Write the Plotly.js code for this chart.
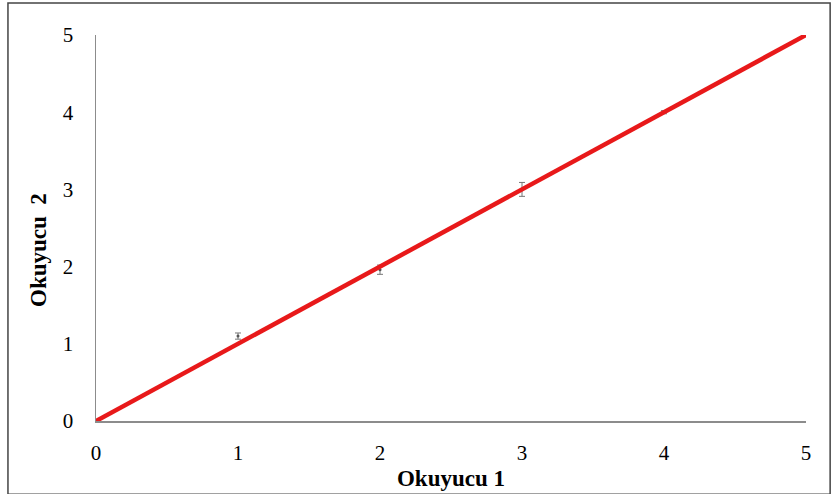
<!DOCTYPE html>
<html>
<head>
<meta charset="utf-8">
<script src="https://cdn.plot.ly/plotly-3.0.1.min.js"></script>
<style>html,body{margin:0;padding:0;background:#fff;}#chart{width:833px;height:494px;}</style>
</head>
<body>
<div id="chart"></div>
<script>
const pointX = [1, 2, 3, 4];
const pointY = [1.1, 1.96, 3.0, 4.0];
const pointErr = [0.04, 0.06, 0.09, 0.02];
const lineX = [0, 5];
const lineY = [0, 5];
const tickVals = [0, 1, 2, 3, 4, 5];
const xTitle = 'Okuyucu 1';
const yTitle = 'Okuyucu&nbsp; 2';

const traces = [
  {
    x: pointX, y: pointY, type: 'scatter', mode: 'markers',
    marker: {size: 3, color: '#555'},
    error_y: {type: 'data', array: pointErr, visible: true, color: '#777', thickness: 1, width: 3},
    showlegend: false, hoverinfo: 'skip'
  },
  {
    x: lineX, y: lineY, type: 'scatter', mode: 'lines',
    line: {color: '#e8191a', width: 4.5},
    showlegend: false
  }
];

const layout = {
  width: 833, height: 494,
  margin: {l: 96, r: 27, t: 35, b: 73},
  paper_bgcolor: '#fff', plot_bgcolor: '#fff',
  font: {family: 'Liberation Serif, Times New Roman, serif', size: 21, color: '#000'},
  xaxis: {
    range: [0, 5], tickvals: tickVals, showgrid: false, zeroline: false,
    showline: true, linecolor: '#8c8c8c', linewidth: 1.5,
    ticks: 'outside', ticklen: 12, tickcolor: 'rgba(0,0,0,0)',
    title: {text: '<b>' + xTitle + '</b>', standoff: 6, font: {size: 23}},
    fixedrange: true
  },
  yaxis: {
    range: [0, 5], tickvals: tickVals, showgrid: false, zeroline: false,
    showline: true, linecolor: '#8c8c8c', linewidth: 1.5,
    ticks: 'outside', ticklen: 17, tickcolor: 'rgba(0,0,0,0)',
    fixedrange: true
  },
  annotations: [{
    text: '<b>' + yTitle + '</b>', xref: 'paper', yref: 'paper',
    x: -0.0817, y: 0.443, xanchor: 'center', yanchor: 'middle',
    textangle: -90, showarrow: false, font: {size: 23}
  }],
  shapes: [{
    type: 'rect', xref: 'paper', yref: 'paper',
    x0: -0.124, x1: 1.034, y0: -0.19, y1: 1.083,
    line: {color: '#444', width: 1.5}, fillcolor: 'rgba(0,0,0,0)', layer: 'below'
  }]
};

Plotly.newPlot('chart', traces, layout, {displayModeBar: false, staticPlot: true});
</script>
</body>
</html>
